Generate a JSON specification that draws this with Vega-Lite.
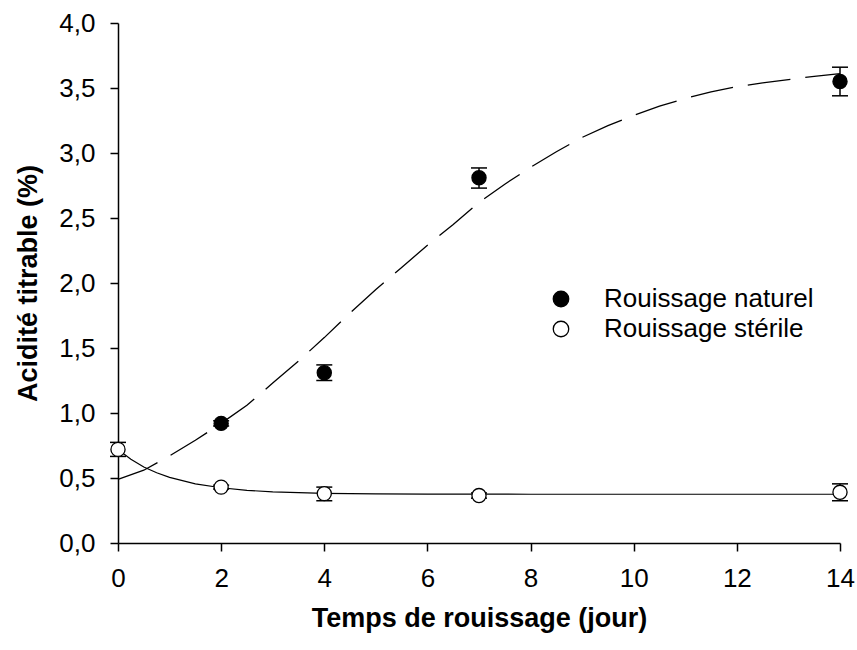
{
  "$schema": "https://vega.github.io/schema/vega-lite/v6.json",
  "width": 722,
  "height": 520,
  "autosize": "none",
  "padding": {"left": 118, "top": 23, "right": 17, "bottom": 107},
  "background": "white",
  "config": {
    "view": {"stroke": null},
    "font": "Liberation Sans",
    "axis": {
      "grid": false,
      "domainColor": "black",
      "domainWidth": 1.5,
      "tickColor": "black",
      "tickWidth": 1.5,
      "tickSize": 8,
      "labelColor": "black",
      "titleColor": "black",
      "labelFont": "Liberation Sans",
      "titleFont": "Liberation Sans",
      "labelFontSize": 26,
      "titleFontSize": 27,
      "titleFontWeight": "bold",
      "labelFlush": false,
      "labelOverlap": false
    }
  },
  "datasets": {
    "obs": [
      {"series": "Rouissage naturel", "day": 2, "mean": 0.92, "lo": 0.9, "hi": 0.94},
      {"series": "Rouissage naturel", "day": 4, "mean": 1.31, "lo": 1.25, "hi": 1.37},
      {"series": "Rouissage naturel", "day": 7, "mean": 2.81, "lo": 2.73, "hi": 2.885},
      {"series": "Rouissage naturel", "day": 14, "mean": 3.55, "lo": 3.44, "hi": 3.66},
      {"series": "Rouissage stérile", "day": 0, "mean": 0.72, "lo": 0.666, "hi": 0.774},
      {"series": "Rouissage stérile", "day": 2, "mean": 0.43, "lo": 0.415, "hi": 0.445},
      {"series": "Rouissage stérile", "day": 4, "mean": 0.38, "lo": 0.325, "hi": 0.43},
      {"series": "Rouissage stérile", "day": 7, "mean": 0.365, "lo": 0.345, "hi": 0.385},
      {"series": "Rouissage stérile", "day": 14, "mean": 0.39, "lo": 0.325, "hi": 0.455}
    ],
    "fit": [
      {"series": "Rouissage naturel", "day": 0, "fit": 0.49},
      {"series": "Rouissage naturel", "day": 0.5, "fit": 0.56},
      {"series": "Rouissage naturel", "day": 1, "fit": 0.67},
      {"series": "Rouissage naturel", "day": 1.5, "fit": 0.79},
      {"series": "Rouissage naturel", "day": 2, "fit": 0.92},
      {"series": "Rouissage naturel", "day": 2.5, "fit": 1.06},
      {"series": "Rouissage naturel", "day": 3, "fit": 1.23},
      {"series": "Rouissage naturel", "day": 3.5, "fit": 1.4},
      {"series": "Rouissage naturel", "day": 4, "fit": 1.58},
      {"series": "Rouissage naturel", "day": 4.5, "fit": 1.77},
      {"series": "Rouissage naturel", "day": 5, "fit": 1.95},
      {"series": "Rouissage naturel", "day": 5.5, "fit": 2.12},
      {"series": "Rouissage naturel", "day": 6, "fit": 2.29},
      {"series": "Rouissage naturel", "day": 6.5, "fit": 2.45},
      {"series": "Rouissage naturel", "day": 7, "fit": 2.62},
      {"series": "Rouissage naturel", "day": 7.5, "fit": 2.76},
      {"series": "Rouissage naturel", "day": 8, "fit": 2.89},
      {"series": "Rouissage naturel", "day": 8.5, "fit": 3.01},
      {"series": "Rouissage naturel", "day": 9, "fit": 3.12},
      {"series": "Rouissage naturel", "day": 9.5, "fit": 3.21},
      {"series": "Rouissage naturel", "day": 10, "fit": 3.29},
      {"series": "Rouissage naturel", "day": 10.5, "fit": 3.36},
      {"series": "Rouissage naturel", "day": 11, "fit": 3.42},
      {"series": "Rouissage naturel", "day": 11.5, "fit": 3.47},
      {"series": "Rouissage naturel", "day": 12, "fit": 3.51},
      {"series": "Rouissage naturel", "day": 12.5, "fit": 3.54},
      {"series": "Rouissage naturel", "day": 13, "fit": 3.565},
      {"series": "Rouissage naturel", "day": 13.5, "fit": 3.59},
      {"series": "Rouissage naturel", "day": 14, "fit": 3.61},
      {"series": "Rouissage stérile", "day": 0, "fit": 0.72},
      {"series": "Rouissage stérile", "day": 0.25, "fit": 0.645},
      {"series": "Rouissage stérile", "day": 0.5, "fit": 0.585},
      {"series": "Rouissage stérile", "day": 0.75, "fit": 0.54},
      {"series": "Rouissage stérile", "day": 1, "fit": 0.505},
      {"series": "Rouissage stérile", "day": 1.5, "fit": 0.455},
      {"series": "Rouissage stérile", "day": 2, "fit": 0.425},
      {"series": "Rouissage stérile", "day": 2.5, "fit": 0.405},
      {"series": "Rouissage stérile", "day": 3, "fit": 0.394},
      {"series": "Rouissage stérile", "day": 4, "fit": 0.382},
      {"series": "Rouissage stérile", "day": 5, "fit": 0.378},
      {"series": "Rouissage stérile", "day": 6, "fit": 0.376},
      {"series": "Rouissage stérile", "day": 8, "fit": 0.375},
      {"series": "Rouissage stérile", "day": 10, "fit": 0.375},
      {"series": "Rouissage stérile", "day": 14, "fit": 0.375}
    ]
  },
  "encoding": {
    "x": {
      "field": "day",
      "type": "quantitative",
      "scale": {"domain": [0, 14], "nice": false, "zero": false},
      "axis": {
        "values": [0, 2, 4, 6, 8, 10, 12, 14],
        "title": "Temps de rouissage (jour)",
        "labelPadding": 14,
        "titlePadding": 14
      }
    }
  },
  "layer": [
    {
      "data": {"name": "fit"},
      "transform": [{"filter": "datum.series == 'Rouissage naturel'"}],
      "mark": {"type": "line", "color": "black", "strokeWidth": 1.3, "strokeDash": [43, 15], "clip": false},
      "encoding": {
        "y": {
          "field": "fit",
          "type": "quantitative",
          "scale": {"domain": [0, 4], "nice": false},
          "axis": {
            "values": [0, 0.5, 1, 1.5, 2, 2.5, 3, 3.5, 4],
            "labelExpr": "replace(format(datum.value, '.1f'), '.', ',')",
            "title": "Acidité titrable (%)",
            "labelPadding": 15,
            "titlePadding": 16
          }
        }
      }
    },
    {
      "data": {"name": "fit"},
      "transform": [{"filter": "datum.series == 'Rouissage stérile'"}],
      "mark": {"type": "line", "color": "black", "strokeWidth": 1.2, "clip": false},
      "encoding": {
        "y": {"field": "fit", "type": "quantitative"}
      }
    },
    {
      "data": {"name": "obs"},
      "mark": {"type": "rule", "color": "black", "strokeWidth": 1.5},
      "encoding": {
        "y": {"field": "lo", "type": "quantitative"},
        "y2": {"field": "hi"}
      }
    },
    {
      "data": {"name": "obs"},
      "mark": {"type": "tick", "orient": "horizontal", "color": "black", "size": 16, "thickness": 1.5, "opacity": 1},
      "encoding": {
        "y": {"field": "lo", "type": "quantitative"}
      }
    },
    {
      "data": {"name": "obs"},
      "mark": {"type": "tick", "orient": "horizontal", "color": "black", "size": 16, "thickness": 1.5, "opacity": 1},
      "encoding": {
        "y": {"field": "hi", "type": "quantitative"}
      }
    },
    {
      "data": {"name": "obs"},
      "mark": {"type": "circle", "stroke": "black", "strokeWidth": 1.3, "opacity": 1, "size": 200},
      "encoding": {
        "y": {"field": "mean", "type": "quantitative"},
        "fill": {
          "field": "series",
          "type": "nominal",
          "scale": {"domain": ["Rouissage naturel", "Rouissage stérile"], "range": ["black", "white"]},
          "legend": {
            "title": null,
            "orient": "none",
            "legendX": 430,
            "legendY": 263,
            "symbolType": "circle",
            "symbolSize": 240,
            "symbolStrokeColor": "black",
            "symbolStrokeWidth": 1.3,
            "symbolOpacity": 1,
            "labelFontSize": 26,
            "labelFont": "Liberation Sans",
            "labelColor": "black",
            "labelLimit": 500,
            "labelOffset": 30,
            "rowPadding": 4
          }
        }
      }
    }
  ]
}
